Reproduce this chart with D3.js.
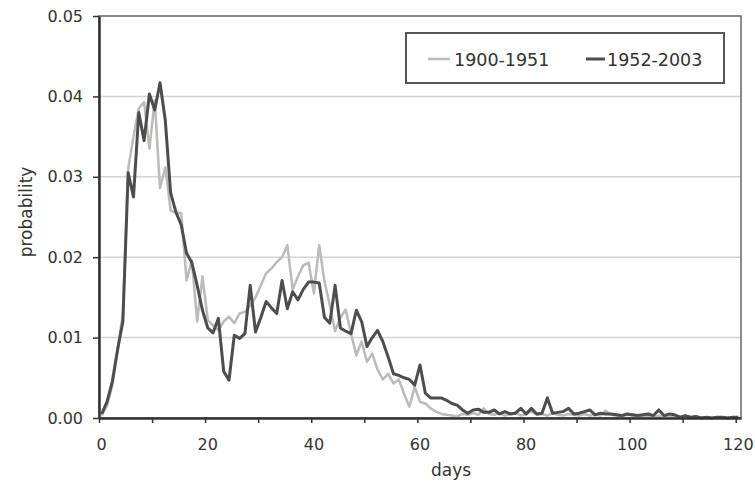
<!DOCTYPE html>
<html>
<head>
<meta charset="utf-8">
<script src="https://cdn.jsdelivr.net/npm/d3@7"></script>
<style>
  html, body { margin: 0; padding: 0; background: #fff; }
  svg { display: block; }
  text { font-family: "DejaVu Sans", "Liberation Sans", sans-serif; fill: #333; }
</style>
</head>
<body>
<svg id="chart" width="755" height="482"></svg>
<script>
// ---- data ----
const seriesNames = ["1900-1951", "1952-2003"];
const yTicks = [0, 0.01, 0.02, 0.03, 0.04, 0.05];
const xLabelTicks = [0, 20, 40, 60, 80, 100, 120];
const days = d3.range(0, 121);

const values1900 = [
  0.0003, 0.0015, 0.0040, 0.0085, 0.0130, 0.0310, 0.0350, 0.0385, 0.0393, 0.0335,
  0.0395, 0.0286, 0.0312, 0.0258, 0.0255, 0.0255, 0.0171, 0.0196, 0.0120, 0.0176,
  0.0122, 0.0115, 0.0109, 0.0120, 0.0126, 0.0118, 0.0130, 0.0132, 0.0140, 0.0150,
  0.0165, 0.0180, 0.0186, 0.0194, 0.0200, 0.0215, 0.0160, 0.0176, 0.0190, 0.0193,
  0.0155, 0.0215, 0.0170, 0.0140, 0.0108, 0.0125, 0.0135, 0.0105, 0.0078, 0.0095,
  0.0070, 0.0080, 0.0060, 0.0048, 0.0055, 0.0043, 0.0048, 0.0030, 0.0014, 0.0039,
  0.0020, 0.0018, 0.0012, 0.0008, 0.0005, 0.0004, 0.0003, 0.0002, 0.0005, 0.0004,
  0.0006, 0.0004, 0.0012, 0.0005, 0.0004, 0.0006, 0.0003, 0.0005, 0.0007, 0.0003,
  0.0005, 0.0008, 0.0004, 0.0005, 0.0003, 0.0006, 0.0004, 0.0003, 0.0005, 0.0004,
  0.0003, 0.0005, 0.0003, 0.0004, 0.0003, 0.0009, 0.0004, 0.0003, 0.0002, 0.0004,
  0.0003, 0.0002, 0.0003, 0.0002, 0.0001, 0.0003, 0.0002, 0.0001, 0.0002, 0.0001,
  0.0001, 0.0001, 0.0000, 0.0001, 0.0001, 0.0000, 0.0001, 0.0001, 0.0000, 0.0001,
  0.0001
];

const values1952 = [
  0.0005, 0.0020, 0.0045, 0.0085, 0.0120, 0.0305, 0.0275, 0.0380, 0.0345, 0.0403,
  0.0383, 0.0417, 0.0370, 0.0280, 0.0256, 0.0240, 0.0205, 0.0193, 0.0165, 0.0134,
  0.0112, 0.0106, 0.0124, 0.0058, 0.0047, 0.0103, 0.0099, 0.0105, 0.0165, 0.0107,
  0.0125, 0.0145, 0.0137, 0.0130, 0.0171, 0.0136, 0.0157, 0.0147, 0.0160, 0.0169,
  0.0169, 0.0168, 0.0125, 0.0118, 0.0165, 0.0112, 0.0108, 0.0105, 0.0134, 0.0120,
  0.0089, 0.0100, 0.0109, 0.0095, 0.0076, 0.0055, 0.0053, 0.0050, 0.0048, 0.0041,
  0.0066, 0.0031, 0.0025, 0.0025, 0.0025, 0.0022, 0.0018, 0.0016, 0.0010, 0.0006,
  0.0010, 0.0011, 0.0007, 0.0007, 0.0010, 0.0005, 0.0008, 0.0005, 0.0006, 0.0012,
  0.0005, 0.0012, 0.0005, 0.0006, 0.0025, 0.0006, 0.0007, 0.0008, 0.0012, 0.0005,
  0.0006, 0.0008, 0.0010, 0.0004, 0.0006, 0.0005, 0.0005, 0.0004, 0.0003, 0.0005,
  0.0004, 0.0003, 0.0004, 0.0005, 0.0003, 0.0010, 0.0003, 0.0005, 0.0004, 0.0001,
  0.0003, 0.0001, 0.0002, 0.0000, 0.0001, 0.0000, 0.0001, 0.0001, 0.0000, 0.0001,
  0.0001
];

// ---- layout ----
const L = 99, R = 741, T = 16, B = 418;
const svg = d3.select("#chart");

const x = d3.scaleBand().domain(days).range([L, R]).paddingInner(0).paddingOuter(0);
const xEdge = d3.scaleLinear().domain([0, days.length]).range([L, R]);
const y = d3.scaleLinear().domain([0, 0.05]).range([B, T]);

// gridlines
svg.append("g")
  .selectAll("line")
  .data(yTicks.filter(v => v > 0 && v < 0.05))
  .join("line")
  .attr("x1", L).attr("x2", R)
  .attr("y1", d => y(d)).attr("y2", d => y(d))
  .attr("stroke", "#d4d4d4")
  .attr("stroke-width", 1.5);

// plot border (top/right)
svg.append("rect")
  .attr("x", L).attr("y", T)
  .attr("width", R - L).attr("height", B - T)
  .attr("fill", "none")
  .attr("stroke", "#666")
  .attr("stroke-width", 1.5);

// lines
const line = d3.line()
  .x(d => x(d.day) + x.bandwidth() / 2)
  .y(d => y(d.v));

const data1900 = days.map((d, i) => ({ day: d, v: values1900[i] }));
const data1952 = days.map((d, i) => ({ day: d, v: values1952[i] }));

svg.append("path")
  .datum(data1900)
  .attr("d", line)
  .attr("fill", "none")
  .attr("stroke", "#bdbab8")
  .attr("stroke-width", 2.5)
  .attr("stroke-linejoin", "round");

svg.append("path")
  .datum(data1952)
  .attr("d", line)
  .attr("fill", "none")
  .attr("stroke", "#4d4d4d")
  .attr("stroke-width", 3)
  .attr("stroke-linejoin", "round");

// y axis
const yAxis = d3.axisLeft(y)
  .tickValues(yTicks)
  .tickFormat(d3.format(".2f"))
  .tickSizeOuter(0)
  .tickSizeInner(6)
  .tickPadding(10);
const gy = svg.append("g").attr("transform", `translate(${L},0)`).call(yAxis);
gy.select(".domain").attr("stroke", "#333").attr("stroke-width", 2.5);
gy.selectAll(".tick line").attr("stroke", "#333").attr("stroke-width", 1.5);
gy.selectAll(".tick text").attr("font-size", 16).attr("fill", "#333")
  .style("font-family", '"DejaVu Sans", sans-serif');

// x axis: tick marks at category boundaries every 10, labels at category centers every 20
const xTickMarks = d3.axisBottom(xEdge)
  .tickValues(d3.range(0, 121, 10))
  .tickFormat("")
  .tickSizeOuter(0)
  .tickSizeInner(5);
const gxm = svg.append("g").attr("transform", `translate(0,${B})`).call(xTickMarks);
gxm.select(".domain").attr("stroke", "#333").attr("stroke-width", 2.5);
gxm.selectAll(".tick line").attr("stroke", "#333").attr("stroke-width", 1.5);

const xLabels = d3.axisBottom(x)
  .tickValues(xLabelTicks)
  .tickSize(0)
  .tickPadding(21);
const gxl = svg.append("g").attr("transform", `translate(0,${B})`).call(xLabels);
gxl.select(".domain").remove();
gxl.selectAll(".tick text").attr("font-size", 16).attr("fill", "#333")
  .style("font-family", '"DejaVu Sans", sans-serif');

// axis titles
svg.append("text")
  .attr("x", 451).attr("y", 476)
  .attr("text-anchor", "middle")
  .attr("font-size", 17)
  .text("days");

svg.append("text")
  .attr("transform", "translate(32,212) rotate(-90)")
  .attr("text-anchor", "middle")
  .attr("font-size", 17)
  .text("probability");

// legend
const lg = svg.append("g");
lg.append("rect")
  .attr("x", 406).attr("y", 33)
  .attr("width", 318).attr("height", 50)
  .attr("fill", "#fff")
  .attr("stroke", "#555")
  .attr("stroke-width", 2);

const legendItems = [
  { name: seriesNames[0], color: "#bdbab8", w: 2.5, x0: 428, x1: 450, tx: 454 },
  { name: seriesNames[1], color: "#4d4d4d", w: 3, x0: 586, x1: 605, tx: 607 }
];
legendItems.forEach(it => {
  lg.append("line")
    .attr("x1", it.x0).attr("x2", it.x1)
    .attr("y1", 59).attr("y2", 59)
    .attr("stroke", it.color)
    .attr("stroke-width", it.w);
  lg.append("text")
    .attr("x", it.tx).attr("y", 65.5)
    .attr("font-size", 17.5)
    .text(it.name);
});
</script>
</body>
</html>
